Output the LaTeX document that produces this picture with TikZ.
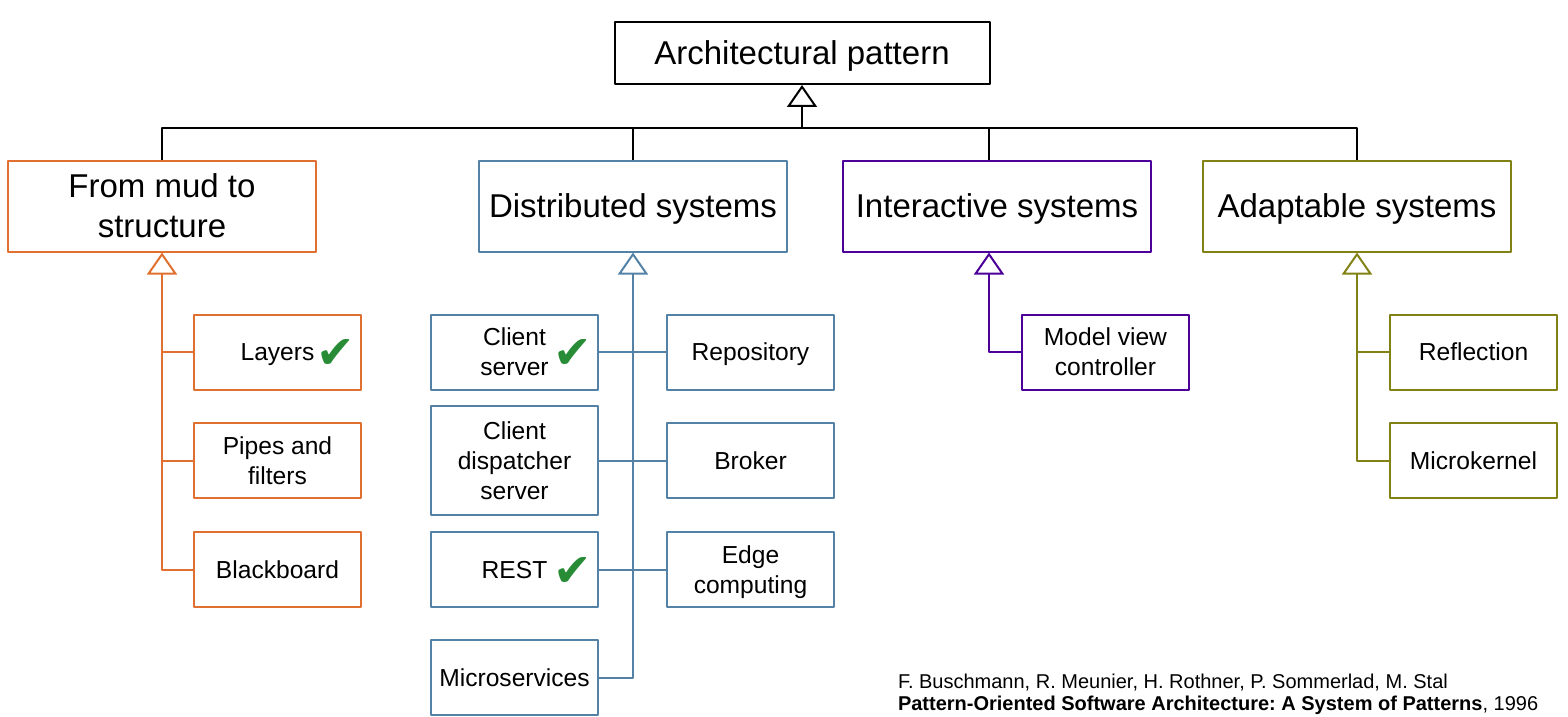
\documentclass[tikz,border=0pt]{standalone}
\usepackage{fontspec}
\setmainfont{Liberation Sans}
\newfontfamily\symfont{DejaVu Sans}
\usetikzlibrary{arrows.meta}
\frenchspacing
\definecolor{mudcol}{RGB}{224,112,48}
\definecolor{distcol}{RGB}{84,130,166}
\definecolor{intcol}{RGB}{76,0,153}
\definecolor{adaptcol}{RGB}{130,130,20}
\definecolor{tickcol}{RGB}{40,140,55}
\newcommand{\tickmark}{{\symfont\fontsize{23}{23}\selectfont ✔}}
\tikzset{
  topbox/.style={draw, line width=1pt, minimum width=187.5pt, minimum height=31pt,
    text depth=0pt, font=\fontsize{16.5}{20}\selectfont},
  catbox/.style={draw=#1, line width=1pt, minimum width=154pt, minimum height=45.5pt,
    align=center, text depth=0pt, font=\fontsize{16.5}{20}\selectfont},
  pbox/.style={draw=#1, line width=1pt, minimum width=83.5pt, minimum height=37.5pt,
    align=center, text depth=0pt, font=\fontsize{12.3}{15}\selectfont},
  done/.style={label={[anchor=east, inner sep=0pt, xshift=-3pt, yshift=-1pt, text=tickcol]east:\tickmark}},
  inh/.style={-{Triangle[open, length=11pt, width=15pt]}},
}
\begin{document}
\begin{tikzpicture}[x=0.5pt, y=-0.5pt, line width=1pt, line join=round]
\useasboundingbox (0,0) rectangle (1568,717);
% root and categories
\node[topbox] (root) at (802,53) {Architectural pattern};
\node[catbox=mudcol] (mud) at (162,206) {From mud to\\structure};
\node[catbox=distcol] (dist) at (633,206) {Distributed systems};
\node[catbox=intcol] (inter) at (997,206) {Interactive systems};
\node[catbox=adaptcol] (adapt) at (1357,206) {Adaptable systems};
\coordinate (bus) at (802,128);
\draw (mud.north) |- (bus) -| (adapt.north);
\draw (dist.north) -- (dist.north |- bus);
\draw ([xshift=-4pt]inter.north) -- ([xshift=-4pt]inter.north |- bus);
\draw[inh] (bus) -- (root.south);

% from mud to structure
\node[pbox=mudcol, done] (layers) at (277.5,352) {Layers};
\node[pbox=mudcol] (pipes) at (277.5,460.5) {Pipes and\\filters};
\node[pbox=mudcol] (board) at (277.5,569.5) {Blackboard};
\draw[mudcol, inh] (board.west) -| (mud.south);
\draw[mudcol] (layers.west) -- (layers.west -| mud.south);
\draw[mudcol] (pipes.west) -- (pipes.west -| mud.south);

% distributed systems
\node[pbox=distcol, done] (cs) at (514.5,352) {Client\\server};
\node[pbox=distcol, minimum height=54.5pt] (cds) at (514.5,460.5) {Client\\dispatcher\\server};
\node[pbox=distcol, done] (rest) at (514.5,569.5) {REST};
\node[pbox=distcol] (micro) at (514.5,677.5) {Microservices};
\node[pbox=distcol] (repo) at (750.5,352) {Repository};
\node[pbox=distcol] (broker) at (750.5,460.5) {Broker};
\node[pbox=distcol] (edge) at (750.5,569.5) {Edge\\computing};
\draw[distcol, inh] (micro.east) -| (dist.south);
\draw[distcol] (cs.east) -- (repo.west);
\draw[distcol] (cds.east) -- (broker.west);
\draw[distcol] (rest.east) -- (edge.west);

% interactive systems
\node[pbox=intcol] (mvc) at (1105.5,352) {Model view\\controller};
\draw[intcol, inh] (mvc.west) -| ([xshift=-4pt]inter.south);

% adaptable systems
\node[pbox=adaptcol] (refl) at (1473.5,352) {Reflection};
\node[pbox=adaptcol] (kernel) at (1473.5,460.5) {Microkernel};
\draw[adaptcol, inh] (kernel.west) -| (adapt.south);
\draw[adaptcol] (refl.west) -- (refl.west -| adapt.south);

% reference
\node[anchor=west, align=left, inner sep=0pt, font=\fontsize{10}{11}\selectfont] (book) at (897,694)
  {F. Buschmann, R. Meunier, H. Rothner, P. Sommerlad, M. Stal\\
   \textbf{Pattern-Oriented Software Architecture: A System of Patterns}, 1996};
\end{tikzpicture}
\end{document}
